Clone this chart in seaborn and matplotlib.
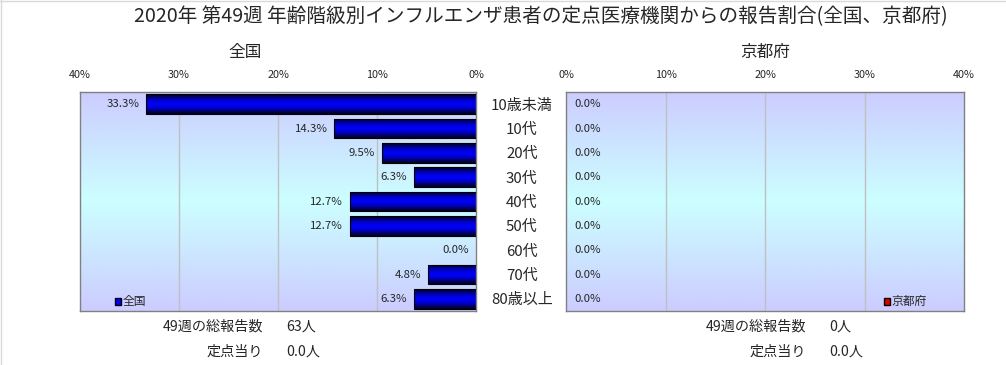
import numpy as np
import pandas as pd
import matplotlib
matplotlib.use("Agg")
import matplotlib.pyplot as plt
from matplotlib.colors import LinearSegmentedColormap
from matplotlib.patches import Patch
from matplotlib.lines import Line2D
import seaborn as sns

# ---- data ----
categories = ["10歳未満", "10代", "20代", "30代", "40代", "50代", "60代", "70代", "80歳以上"]
national = [33.3, 14.3, 9.5, 6.3, 12.7, 12.7, 0.0, 4.8, 6.3]
kyoto = [0.0, 0.0, 0.0, 0.0, 0.0, 0.0, 0.0, 0.0, 0.0]
xticks = [0, 10, 20, 30, 40]
xticklabels = ["0%", "10%", "20%", "30%", "40%"]
title = "2020年 第49週 年齢階級別インフルエンザ患者の定点医療機関からの報告割合(全国、京都府)"
panel_titles = ["全国", "京都府"]
totals_label = "49週の総報告数"
per_label = "定点当り"
national_total = "63人"
national_per = "0.0人"
kyoto_total = "0人"
kyoto_per = "0.0人"

sns.set_theme(style="white")
plt.rcParams["font.family"] = ["Noto Sans CJK JP", "DejaVu Sans"]

W, H = 1006, 365
fig = plt.figure(figsize=(W / 100, H / 100), dpi=100)

def ax_rect(x0, x1, y0, y1):
    return [x0 / W, 1 - y1 / H, (x1 - x0) / W, (y1 - y0) / H]

axL = fig.add_axes(ax_rect(80, 476, 92, 311))
axR = fig.add_axes(ax_rect(566, 964, 92, 311))

bg_cmap = LinearSegmentedColormap.from_list("bg", ["#CCCCFF", "#CCFFFF", "#CCCCFF"])
bar_cmap = LinearSegmentedColormap.from_list(
    "bar", [(0.0, "#000018"), (0.3, "#0000C8"), (0.5, "#0000FF"), (0.7, "#0000C8"), (1.0, "#000018")])
grad = np.linspace(0, 1, 256).reshape(-1, 1)

def style_axes(ax, values, df, invert):
    sns.barplot(data=df, x="value", y="category", orient="h", ax=ax,
                color="#0000FF", width=0.8, edgecolor="black", linewidth=0.8, zorder=3)
    ax.imshow(grad, extent=[0, 1, 0, 1], transform=ax.transAxes, aspect="auto",
              cmap=bg_cmap, zorder=0, interpolation="bilinear")
    for p in list(ax.patches):
        x, y = p.get_x(), p.get_y()
        w, h = p.get_width(), p.get_height()
        if w == 0:
            p.set_visible(False)
            continue
        im = ax.imshow(grad, extent=[x, x + w, y + h, y], aspect="auto",
                       cmap=bar_cmap, zorder=2, interpolation="bilinear")
        im.set_clip_path(p)
        p.set_facecolor("none")
    ax.set_xlim(40, 0) if invert else ax.set_xlim(0, 40)
    ax.set_ylim(8.5, -0.5)
    ax.set_xticks(xticks)
    ax.set_xticklabels(xticklabels, fontsize=7.8)
    ax.xaxis.tick_top()
    ax.tick_params(axis="x", length=0, pad=9)
    for t in [10, 20, 30]:
        ax.axvline(t, color="#C0C0C0", lw=1, zorder=1)
    for s in ax.spines.values():
        s.set_color("#808080")
        s.set_linewidth(1)
    ax.set_xlabel("")
    ax.set_ylabel("")
    for i, v in enumerate(values):
        if invert:
            ax.annotate(f"{v:.1f}%", (v, i), xytext=(-5, 0), textcoords="offset points",
                        ha="right", va="center", fontsize=8.2, zorder=5)
        else:
            ax.annotate(f"{v:.1f}%", (v, i), xytext=(6, 0), textcoords="offset points",
                        ha="left", va="center", fontsize=8.2, zorder=5)

dfL = pd.DataFrame({"category": categories, "value": national})
dfR = pd.DataFrame({"category": categories, "value": kyoto})
style_axes(axL, national, dfL, True)
style_axes(axR, kyoto, dfR, False)

# category labels between the panels
axL.yaxis.tick_right()
axL.set_yticks(range(len(categories)))
axL.set_yticklabels(categories, fontsize=10.8, ha="center")
axL.tick_params(axis="y", length=0, pad=33)
axR.set_yticks([])

# legends
axL.legend(handles=[Patch(facecolor="#0000FF", edgecolor="black", label="全国")],
           loc="lower left", bbox_to_anchor=(0.07, -0.02), frameon=False, fontsize=8.5,
           handlelength=0.55, handleheight=0.55, handletextpad=0.1, borderaxespad=0.2)
axR.legend(handles=[Patch(facecolor="#DD0000", edgecolor="black", label="京都府")],
           loc="lower left", bbox_to_anchor=(0.78, -0.02), frameon=False, fontsize=8.5,
           handlelength=0.55, handleheight=0.55, handletextpad=0.1, borderaxespad=0.2)

# titles
fig.text(541 / W, 1 - 17 / H, title, ha="center", va="center", fontsize=14.1)
fig.text(245 / W, 1 - 52 / H, panel_titles[0], ha="center", va="center", fontsize=12)
fig.text(765 / W, 1 - 52 / H, panel_titles[1], ha="center", va="center", fontsize=12)

# footer texts
fs = 10.2
fig.text(263 / W, 1 - 327 / H, totals_label, ha="right", va="center", fontsize=fs)
fig.text(286 / W, 1 - 327 / H, national_total, ha="left", va="center", fontsize=fs)
fig.text(263 / W, 1 - 352 / H, per_label, ha="right", va="center", fontsize=fs)
fig.text(286 / W, 1 - 352 / H, national_per, ha="left", va="center", fontsize=fs)
fig.text(806 / W, 1 - 327 / H, totals_label, ha="right", va="center", fontsize=fs)
fig.text(829 / W, 1 - 327 / H, kyoto_total, ha="left", va="center", fontsize=fs)
fig.text(806 / W, 1 - 352 / H, per_label, ha="right", va="center", fontsize=fs)
fig.text(829 / W, 1 - 352 / H, kyoto_per, ha="left", va="center", fontsize=fs)

# light frame on top/left
fig.add_artist(Line2D([0.5 / W, 0.5 / W], [0, 1], transform=fig.transFigure, color="#D9D9D9", lw=1))
fig.add_artist(Line2D([0, 1], [1 - 0.5 / H, 1 - 0.5 / H], transform=fig.transFigure, color="#D9D9D9", lw=1))

fig.savefig("out.png", dpi=100)
